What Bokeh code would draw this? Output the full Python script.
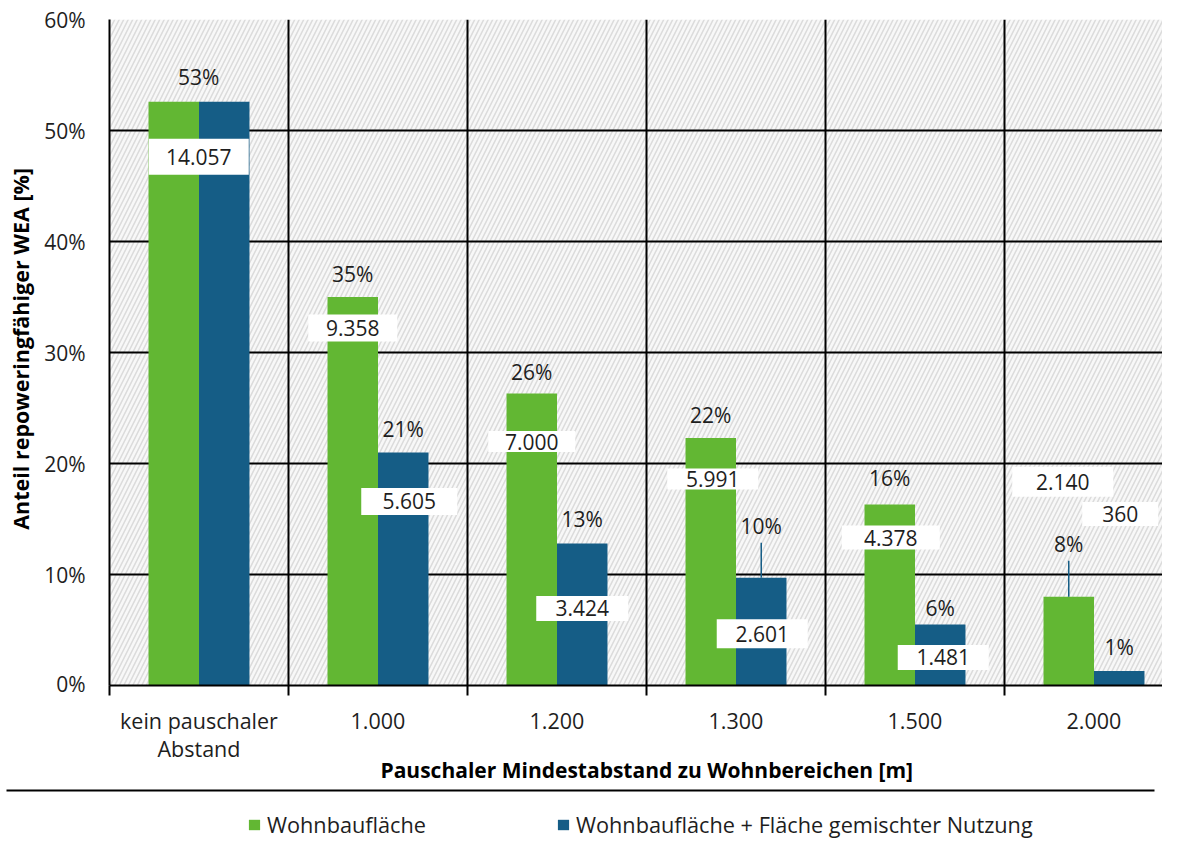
import math
from bokeh.plotting import figure
from bokeh.layouts import column, row
from bokeh.models import (Range1d, FixedTicker, LinearAxis, ColumnDataSource, LabelSet, Label,
                          Legend, LegendItem, PrintfTickFormatter, Grid)
from bokeh.core.properties import value
from bokeh.embed import file_html
from bokeh.resources import INLINE

# ---------------- data ----------------
categories = ["kein pauschaler\nAbstand", "1.000", "1.200", "1.300", "1.500", "2.000"]
series_names = ["Wohnbaufläche", "Wohnbaufläche + Fläche gemischter Nutzung"]
share_wohn = [52.6, 35.0, 26.3, 22.3, 16.3, 8.0]      # % of WEA
share_misch = [52.6, 21.0, 12.8, 9.7, 5.5, 1.3]
pct_wohn = ["53%", "35%", "26%", "22%", "16%", "8%"]
pct_misch = ["53%", "21%", "13%", "10%", "6%", "1%"]
count_wohn = ["14.057", "9.358", "7.000", "5.991", "4.378", "2.140"]
count_misch = ["14.057", "5.605", "3.424", "2.601", "1.481", "360"]
y_ticks = [0, 10, 20, 30, 40, 50, 60]
y_title = "Anteil repoweringfähiger WEA [%]"
x_title = "Pauschaler  Mindestabstand  zu Wohnbereichen [m]"

# ---------------- layout (screen px offsets / box sizes of labels) ----------------
show_misch_labels = [False, True, True, True, True, True]   # group 1 labels coincide
pct_w_dx = [25, 0, 0, 0, 0, 0]
pct_w_dy = [25, 23, 22, 23, 27, 53]
pct_m_dx = [0, 0, 0, 0, 0, 0]
pct_m_dy = [0, 23, 24, 52, 16, 24]
cnt_w_dx = [25, 0, 0, 2, 1, -6]
cnt_w_dy = [-55, -31, -48, -41, -33, 115]
cnt_m_dx = [0, 6, 0, 1, 3, 1]
cnt_m_dy = [0, -49, -65, -56, -33, 157]
box_w_w = [100, 89, 87, 91, 98, 101]
box_w_h = [36, 27, 21, 21, 24, 30]
box_m_w = [0, 96, 92, 91, 91, 76]
box_m_h = [0, 27, 25, 29, 25, 24]
lead_w = [0, 0, 0, 0, 0, 36]
lead_m = [0, 0, 0, 35, 0, 0]

FONT = "Open Sans"
GREEN = "#62B733"
BLUE = "#155D86"
TXT = "#1e1e1e"

# geometry in picture px; canvas origin observed at picture (OX, OY)
OX, OY = 1, 2
TOTAL_W, TOTAL_H = 1162, 840
LEFT_W = 40                      # narrow strip holding the y title
PLOT_L = 110                     # picture x of plot area left edge
PLOT_T, PLOT_B = 21, 687         # picture y of 60 % and 0 %
CAT_PX = 179.0
H1 = PLOT_B - OY + 12            # main figure height (frame + tick marks)
H2 = TOTAL_H - H1                # bottom strip height
n = len(categories)
x_end = (OX + TOTAL_W - PLOT_L) / CAT_PX

# ---------------- left strip: y-axis title ----------------
pl = figure(width=LEFT_W, height=H1, output_backend="svg", toolbar_location=None,
            x_range=Range1d(0, LEFT_W), y_range=Range1d(0, H1),
            min_border=0, x_axis_type=None, y_axis_type=None)
pl.outline_line_color = None
pl.grid.visible = False
pl.add_layout(Label(x=21 - OX, y=H1 + OY - 536, text=y_title, angle=math.pi / 2,
                    text_align="left", text_baseline="middle", text_font=FONT,
                    text_font_size="21.5px", text_font_style="bold", text_color="black"))

# ---------------- main plot ----------------
FRAME_L = PLOT_L - OX - LEFT_W
p = figure(width=TOTAL_W - LEFT_W, height=H1, output_backend="svg", toolbar_location=None,
           x_range=Range1d(0, x_end), y_range=Range1d(0, y_ticks[-1]),
           min_border_left=FRAME_L, min_border_right=0, min_border_top=PLOT_T - OY,
           min_border_bottom=H1 - (PLOT_B - OY), x_axis_type=None)
p.outline_line_color = None
p.background_fill_color = "white"
p.border_fill_color = "white"
px2dy = y_ticks[-1] / (PLOT_B - PLOT_T)
px2dx = 1.0 / CAT_PX

centers = [i + 0.5 for i in range(n)]
bw = 0.282
xg = [c - bw / 2 for c in centers]
xb = [c + bw / 2 for c in centers]

# hatched plot background
p.quad(left=[0], right=[n], bottom=[y_ticks[0]], top=[y_ticks[-1]], fill_color="#f8f8f8",
       line_color=None, hatch_pattern="/", hatch_color="#dcdcdc", hatch_scale=9,
       hatch_weight=1.6, level="image")

r_w = p.vbar(x=xg, top=share_wohn, width=bw, bottom=0, fill_color=GREEN, line_color=None)
r_m = p.vbar(x=xb, top=share_misch, width=bw, bottom=0, fill_color=BLUE, line_color=None)

# leader lines
lx, ly0, ly1 = [], [], []
for xs, vals, lead in ((xg, share_wohn, lead_w), (xb, share_misch, lead_m)):
    for x, v, l in zip(xs, vals, lead):
        if l > 0:
            lx.append(x); ly0.append(v); ly1.append(v + l * px2dy)
p.segment(x0=lx, y0=ly0, x1=lx, y1=ly1, line_color=BLUE, line_width=1.5)

# grids
p.ygrid.ticker = FixedTicker(ticks=y_ticks)
p.ygrid.grid_line_color = "black"
p.ygrid.grid_line_width = 2
p.add_layout(Grid(dimension=0, ticker=FixedTicker(ticks=list(range(n + 1))),
                  grid_line_color="black", grid_line_width=2))

# y axis
ya = p.yaxis[0]
ya.ticker = FixedTicker(ticks=y_ticks)
ya.formatter = PrintfTickFormatter(format="%d%%")
ya.major_tick_out = 0
ya.major_tick_in = 0
ya.minor_tick_line_color = None
ya.axis_line_color = "black"
ya.axis_line_width = 2
ya.major_label_standoff = 24
ya.major_label_text_font = FONT
ya.major_label_text_font_size = "21px"
ya.major_label_text_color = TXT

# x axis: tick marks at category boundaries
ax1 = LinearAxis(ticker=FixedTicker(ticks=list(range(n + 1))),
                 major_label_overrides={i: "" for i in range(n + 1)},
                 major_label_text_font_size="0px", major_label_standoff=0,
                 major_tick_out=10, major_tick_in=0, major_tick_line_width=2,
                 major_tick_line_color="black", minor_tick_line_color=None,
                 axis_line_color="black", axis_line_width=2)
p.add_layout(ax1, "below")

# percent labels / count labels
def labels(xs, ys, texts, dxs, dys, show):
    d = dict(x=[], y=[], text=[], dx=[], dy=[])
    for x, y, t, dx, dy, s in zip(xs, ys, texts, dxs, dys, show):
        if s:
            d["x"].append(x); d["y"].append(y); d["text"].append(t)
            d["dx"].append(dx); d["dy"].append(dy)
    return LabelSet(x="x", y="y", text="text", x_offset="dx", y_offset="dy",
                    source=ColumnDataSource(d), text_align="center", text_baseline="middle",
                    text_font=value(FONT), text_font_size="21px", text_color=TXT)

all_show = [True] * n
p.add_layout(labels(xg, share_wohn, pct_wohn, pct_w_dx, pct_w_dy, all_show))
p.add_layout(labels(xb, share_misch, pct_misch, pct_m_dx, pct_m_dy, show_misch_labels))

bx, by, bwid, bhei = [], [], [], []
for xs, ys, dxs, dys, ws, hs, show in ((xg, share_wohn, cnt_w_dx, cnt_w_dy, box_w_w, box_w_h, all_show),
                                       (xb, share_misch, cnt_m_dx, cnt_m_dy, box_m_w, box_m_h, show_misch_labels)):
    for x, y, dx, dy, w, h, s in zip(xs, ys, dxs, dys, ws, hs, show):
        if s:
            bx.append(x + dx * px2dx); by.append(y + dy * px2dy)
            bwid.append(w); bhei.append(h)
p.rect(x=bx, y=by, width=bwid, height=bhei, width_units="screen", height_units="screen",
       fill_color="white", line_color=None)
p.add_layout(labels(xg, share_wohn, count_wohn, cnt_w_dx, cnt_w_dy, all_show))
p.add_layout(labels(xb, share_misch, count_misch, cnt_m_dx, cnt_m_dy, show_misch_labels))

# ---------------- bottom strip: category labels, x title, rule, legend ----------------
TOP2 = OY + H1                   # picture y of strip top
def sy(pic_y):                   # picture y -> strip data y (pixels, upward)
    return TOP2 + H2 - pic_y
def sx(pic_x):                   # picture x -> category units
    return (pic_x - PLOT_L) / CAT_PX

pb = figure(width=TOTAL_W, height=H2, output_backend="svg", toolbar_location=None,
            x_range=Range1d(sx(OX), x_end), y_range=Range1d(0, H2),
            min_border=0, x_axis_type=None, y_axis_type=None)
pb.outline_line_color = None
pb.grid.visible = False

line1 = [c.split("\n")[0] for c in categories]
line2 = [c.split("\n")[1] if "\n" in c else "" for c in categories]
cat_src = ColumnDataSource(dict(x=centers, y1=[sy(722)] * n, y2=[sy(750)] * n,
                                t1=line1, t2=line2))
for yk, tk in (("y1", "t1"), ("y2", "t2")):
    pb.add_layout(LabelSet(x="x", y=yk, text=tk, source=cat_src, text_align="center",
                           text_baseline="middle", text_font=value(FONT),
                           text_font_size="21.5px", text_color=TXT))
pb.add_layout(Label(x=sx(381), y=sy(771), text=x_title, text_align="left",
                    text_baseline="middle", text_font=FONT, text_font_size="21px",
                    text_font_style="bold", text_color="black"))
pb.segment(x0=[sx(7)], x1=[sx(1155)], y0=[sy(792)], y1=[sy(792)], line_color="black",
           line_width=2)

g_w = pb.vbar(x=[-50], top=[0], bottom=0, width=0.1, fill_color=GREEN, line_color=None)
g_m = pb.vbar(x=[-50], top=[0], bottom=0, width=0.1, fill_color=BLUE, line_color=None)
legend = Legend(items=[LegendItem(label=series_names[0], renderers=[g_w]),
                       LegendItem(label=series_names[1], renderers=[g_m])],
                orientation="horizontal", location=(248 - OX, 1), padding=0, margin=0,
                spacing=130, border_line_color=None, background_fill_alpha=0,
                glyph_width=14, glyph_height=13, label_standoff=6,
                label_text_font=FONT, label_text_font_size="21.7px", label_text_color=TXT)
pb.add_layout(legend, "center")

layout = column(row(pl, p, spacing=0), pb, spacing=0)
open("out.html", "w").write(file_html(layout, INLINE))
